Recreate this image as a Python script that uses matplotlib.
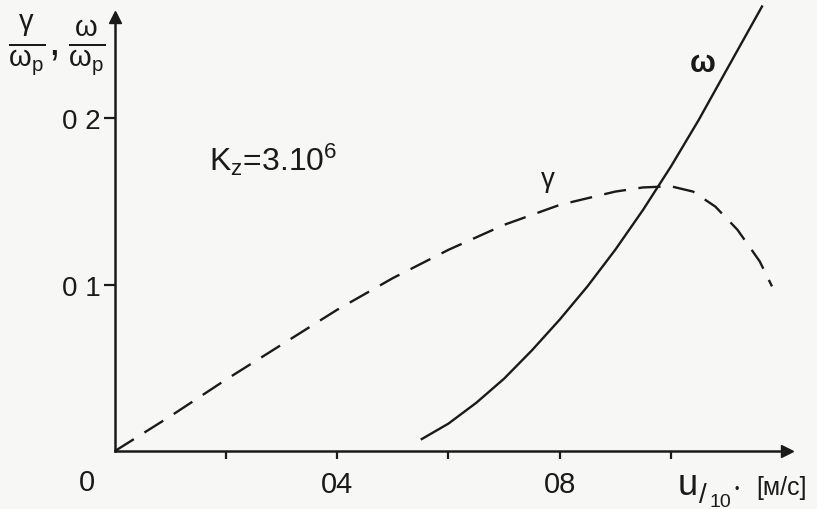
import numpy as np
import matplotlib
matplotlib.use('Agg')
import matplotlib.pyplot as plt

# data (u / 10^6 m/s vs normalised gamma and omega)
u_gamma = [0.0, 0.1, 0.2, 0.3, 0.4, 0.5, 0.6, 0.7, 0.8, 0.9,
           0.95, 1.0, 1.04, 1.08, 1.12, 1.16, 1.182]
gamma = [0.0, 0.021, 0.043, 0.064, 0.085, 0.104, 0.121, 0.136, 0.148, 0.156,
         0.1585, 0.1592, 0.156, 0.147, 0.133, 0.114, 0.099]

u_omega = [0.552, 0.6, 0.65, 0.7, 0.75, 0.8, 0.85, 0.9, 0.95, 1.0,
           1.05, 1.1, 1.164]
omega = [0.0072, 0.0165, 0.029, 0.0435, 0.0605, 0.079, 0.099, 0.121, 0.145, 0.171,
         0.199, 0.229, 0.2673]

xticks = [0.2, 0.4, 0.6, 0.8, 1.0]
xticklabels = ['', '04', '', '08', '']
yticks = [0.1, 0.2]
yticklabels = ['0 1', '0 2']

ink = '#1a1a1a'
bg = '#f7f7f5'
plt.rcParams['font.family'] = ['Liberation Sans', 'DejaVu Sans']
plt.rcParams['mathtext.default'] = 'regular'
plt.rcParams['lines.scale_dashes'] = False

fig = plt.figure(figsize=(8.17, 5.10), dpi=100, facecolor=bg)
ax = fig.add_axes([115 / 817, 58 / 510, 672 / 817, 434 / 510])
ax.set_facecolor(bg)

ax.plot(u_gamma, gamma, color=ink, lw=1.7, dashes=(16, 9), clip_on=False)
ax.plot(u_omega, omega, color=ink, lw=1.7, clip_on=False)

ax.set_xlim(0, 1.209)
ax.set_ylim(0, 0.261)

for s in ['top', 'right']:
    ax.spines[s].set_visible(False)
for s in ['left', 'bottom']:
    ax.spines[s].set_linewidth(1.8)
    ax.spines[s].set_color(ink)

# arrow heads
ax.plot(1, 0, '>', color=ink, ms=9, transform=ax.transAxes, clip_on=False)
ax.plot(0, 1, '^', color=ink, ms=9, transform=ax.transAxes, clip_on=False)

ax.set_xticks(xticks)
ax.set_xticklabels(xticklabels, fontsize=21)
ax.set_yticks(yticks)
ax.set_yticklabels(yticklabels, fontsize=20)
ax.tick_params(axis='x', length=6, width=1.6, color=ink, pad=8, labelcolor=ink)
ax.tick_params(axis='y', length=8, width=1.6, color=ink, pad=2, labelcolor=ink)

# curve labels
ax.text(1.058, 0.2336, 'ω', fontsize=22, fontweight='bold', color=ink, ha='center', va='center')
ax.text(0.779, 0.1634, 'γ', fontsize=20, color=ink, ha='center', va='center')
ax.text(0.17, 0.176, r'K$_z$=3.10$^6$', fontsize=23, color=ink, ha='left', va='center')

# axis labels
fig.text(87 / 817, 1 - 483 / 510, '0', fontsize=21, color=ink, ha='center', va='center')
fig.text(57 / 817, 1 - 45 / 510, r'$\frac{γ}{ω_p},\frac{ω}{ω_p}$',
         fontsize=30, color=ink, ha='center', va='center')
fig.text(688 / 817, 1 - 486 / 510, 'u', fontsize=26, color=ink, ha='center', va='center')
fig.text(703 / 817, 1 - 496 / 510, '/', fontsize=20, color=ink, ha='center', va='center')
fig.text(720 / 817, 1 - 503 / 510, '10', fontsize=14, color=ink, ha='center', va='center')
fig.text(737 / 817, 1 - 490 / 510, '•', fontsize=9, color=ink, ha='center', va='center')
fig.text(781 / 817, 1 - 488 / 510, '[м/с]', fontsize=18, color=ink, ha='center', va='center')

fig.savefig('out.png', dpi=100, facecolor=bg)
